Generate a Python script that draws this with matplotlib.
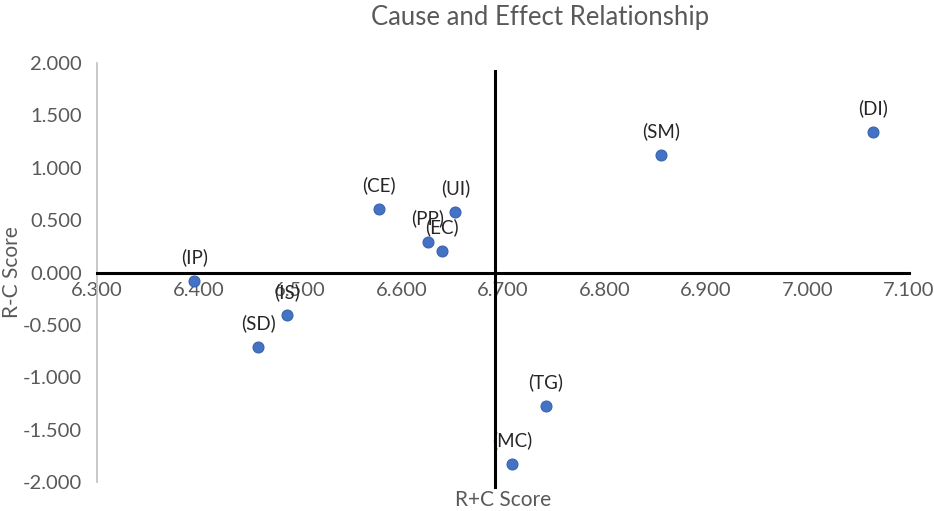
import matplotlib
matplotlib.use("Agg")
import matplotlib.pyplot as plt

# data
codes = ["(IP)", "(SD)", "(IS)", "(CE)", "(PP)", "(EC)", "(UI)", "(SM)", "(DI)", "(TG)", "(MC)"]
rc_plus = [6.396, 6.459, 6.487, 6.578, 6.626, 6.640, 6.653, 6.856, 7.065, 6.742, 6.709]
rc_minus = [-0.080, -0.714, -0.410, 0.610, 0.295, 0.210, 0.580, 1.124, 1.343, -1.276, -1.830]

x_ticks = [6.3, 6.4, 6.5, 6.6, 6.7, 6.8, 6.9, 7.0, 7.1]
y_ticks = [-2.0, -1.5, -1.0, -0.5, 0.0, 0.5, 1.0, 1.5, 2.0]
cross_x = 6.692   # where the vertical axis crosses in the reference

plt.rcParams['font.family'] = ['Lato', 'DejaVu Sans']
gray = '#595959'

fig = plt.figure(figsize=(9.34, 5.11), dpi=100)
W, H = 934, 511
ax = fig.add_axes([97 / W, (H - 482) / H, (909 - 97) / W, (482 - 63) / H])

ax.scatter(rc_plus, rc_minus, s=62, color='#4472C4', edgecolors='#3A64B0',
           linewidths=0.8, zorder=4)
for c, x, y in zip(codes, rc_plus, rc_minus):
    ax.annotate(c, (x, y), xytext=(0, 17), textcoords='offset points',
                ha='center', va='center', fontsize=13.5, color='#262626', zorder=2)

ax.set_xlim(6.3, 7.1)
ax.set_ylim(-2.0, 2.0)
ax.set_xticks(x_ticks)
ax.set_yticks(y_ticks)
ax.set_xticklabels([f"{v:.3f}" for v in x_ticks])
ax.set_yticklabels([f"{v:.3f}" for v in y_ticks])
ax.tick_params(axis='x', length=0, pad=7, labelsize=14.5, labelcolor=gray)
ax.tick_params(axis='y', length=0, pad=11, labelsize=14.5, labelcolor=gray)

for s in ['top', 'right']:
    ax.spines[s].set_visible(False)
ax.spines['left'].set_color('#BFBFBF')
ax.spines['left'].set_linewidth(1.2)
ax.spines['bottom'].set_position(('data', 0))
ax.spines['bottom'].set_color('black')
ax.spines['bottom'].set_linewidth(2.2)
ax.spines['bottom'].set_zorder(3)
ax.axvline(cross_x, ymin=-0.012, ymax=0.98, color='black', linewidth=2.2,
           zorder=3, clip_on=False)

ax.set_xlabel("R+C Score", fontsize=15, color=gray)
ax.xaxis.set_label_coords(0.5, -0.02)
ax.set_ylabel("R-C Score", fontsize=15, color=gray)
ax.yaxis.set_label_coords(-0.092, 0.5)

fig.text(540 / W, 1 - 18 / H, "Cause and Effect Relationship", ha='center',
         va='center', fontsize=18.5, color=gray)

fig.savefig("out.png", dpi=100)
